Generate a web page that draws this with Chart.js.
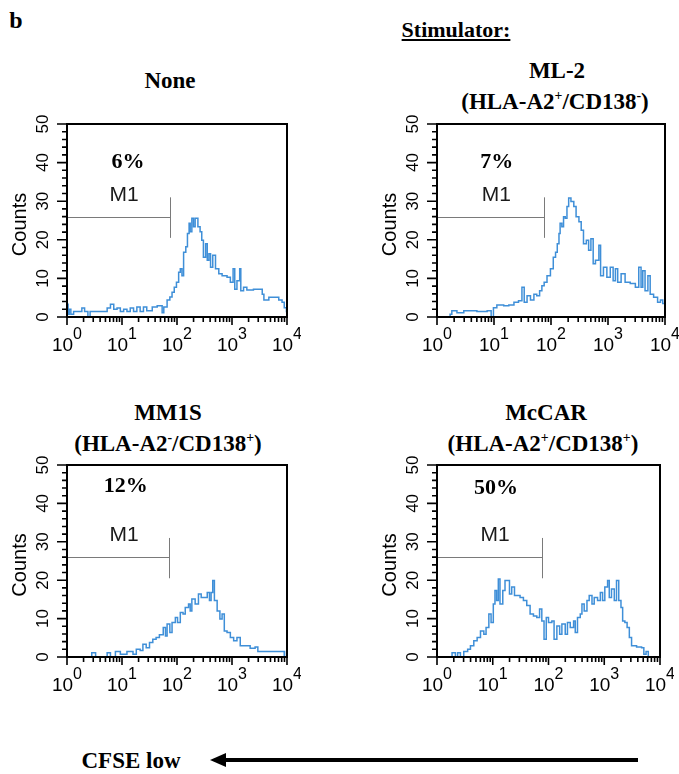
<!DOCTYPE html>
<html><head><meta charset="utf-8">
<script src="https://cdn.jsdelivr.net/npm/chart.js@4.4.0/dist/chart.umd.min.js"></script>
<style>
html,body{margin:0;padding:0;background:#fff;}
body{width:679px;height:774px;position:relative;overflow:hidden;}
.t{position:absolute;transform:translate(-50%,-50%);font-family:"Liberation Serif","Times New Roman",serif;font-weight:bold;font-size:23px;white-space:nowrap;line-height:1;color:#000;}
.t sup{font-size:0.6em;vertical-align:0.6em;line-height:0;}
canvas{position:absolute;}
</style></head><body>
<div class="t" style="left:16px;top:20px;font-size:24px;">b</div>
<div class="t" style="left:456px;top:30px;font-size:22px;text-decoration:underline;">Stimulator:</div>
<div class="t" style="left:170px;top:80px;">None</div>
<div class="t" style="left:557px;top:70px;">ML-2</div>
<div class="t" style="left:555px;top:101px;">(HLA-A2<sup>+</sup>/CD138<sup>-</sup>)</div>
<div class="t" style="left:168px;top:412px;">MM1S</div>
<div class="t" style="left:168px;top:443px;">(HLA-A2<sup>-</sup>/CD138<sup>+</sup>)</div>
<div class="t" style="left:546px;top:412px;">McCAR</div>
<div class="t" style="left:543px;top:443px;">(HLA-A2<sup>+</sup>/CD138<sup>+</sup>)</div>
<div class="t" style="left:131px;top:760px;">CFSE low</div>
<svg style="position:absolute;left:0;top:0" width="679" height="774">
  <line x1="222" y1="760" x2="638" y2="760" stroke="#000" stroke-width="4"/>
  <polygon points="210,760 226,753 226,767" fill="#000"/>
</svg>
<script>
// ---- data (x given as log10 decades of fluorescence, y = counts) ----
const none_x = [0.00,0.02,0.04,0.07,0.12,0.21,0.27,0.32,0.38,0.42,0.55,0.67,0.73,0.79,0.85,0.91,0.97,1.03,1.09,1.15,1.21,1.27,1.33,1.39,1.45,1.55,1.64,1.73,1.76,1.82,1.87,1.91,1.95,1.99,2.03,2.06,2.09,2.12,2.16,2.19,2.22,2.24,2.27,2.30,2.33,2.38,2.42,2.45,2.48,2.52,2.55,2.58,2.61,2.65,2.70,2.76,2.82,2.91,2.97,3.02,3.05,3.09,3.14,3.16,3.21,3.27,3.39,3.50,3.55,3.58,3.67,3.76,3.85,3.91,3.95,3.99,4.00];
const none_y = [3.3,0.7,2.0,0.7,1.4,1.4,2.3,1.4,0,1.4,1.4,1.4,2.3,3.3,2.0,2.3,1.4,2.0,1.4,2.3,1.4,2.6,1.4,2.6,1.6,2.6,2.9,1.1,2.6,4.4,5.2,6.4,7.7,9.0,11.6,12.5,10.7,16.8,18.2,21.6,24.3,22.1,25.6,23.4,25.6,23.4,22.1,19.9,15.5,19.0,14.7,16.4,12.9,16.0,12.5,11.2,10.7,10.3,9.0,12.5,7.2,9.4,12.5,6.8,7.7,7.0,7.2,7.2,5.9,4.4,5.1,5.1,4.4,3.8,2.4,1.4,2.6];

const ml2_x = [0.00,0.23,0.26,0.35,0.47,0.58,0.70,0.88,0.95,0.99,1.05,1.17,1.26,1.35,1.43,1.49,1.53,1.58,1.64,1.70,1.75,1.80,1.84,1.88,1.93,1.99,2.04,2.08,2.11,2.14,2.16,2.19,2.22,2.25,2.28,2.31,2.35,2.40,2.44,2.49,2.53,2.57,2.62,2.66,2.70,2.74,2.78,2.84,2.87,2.92,2.98,3.04,3.09,3.13,3.17,3.23,3.30,3.39,3.48,3.54,3.58,3.61,3.65,3.70,3.74,3.80,3.87,3.92,3.96,4.00];
const ml2_y = [0,0.7,1.6,1.1,1.6,1.6,1.4,1.6,0,2.4,3.1,2.9,3.1,3.8,4.2,7.7,3.8,5.5,4.4,5.9,5.5,6.8,8.1,9.0,10.7,12.5,15.5,16.8,19.0,21.6,24.3,23.4,26.0,25.6,28.6,30.8,29.9,28.6,26.0,24.7,22.5,19.0,19.9,17.3,20.3,13.8,14.7,18.6,10.7,12.9,10.3,12.9,9.4,12.5,9.0,11.2,9.0,8.7,7.7,12.9,7.7,12.0,6.8,10.7,5.9,5.1,3.8,4.4,3.5,3.5];

const mm1s_x = [0.00,0.39,0.45,0.52,0.67,0.73,0.79,0.88,0.97,1.09,1.20,1.26,1.33,1.38,1.44,1.50,1.56,1.62,1.68,1.75,1.79,1.82,1.87,1.91,1.97,2.01,2.06,2.11,2.15,2.21,2.24,2.27,2.33,2.39,2.44,2.48,2.55,2.59,2.62,2.65,2.68,2.73,2.78,2.82,2.86,2.91,2.97,3.03,3.09,3.15,3.24,3.33,3.42,3.47,3.64,3.82,3.95,3.99,4.00];
const mm1s_y = [0,0,1.1,0,0,1.1,0,1.4,0.7,1.4,0.7,2.0,1.7,3.3,2.4,3.8,4.6,5.1,5.8,7.7,5.5,8.6,6.4,9.0,10.3,9.0,11.6,11.2,12.9,13.8,12.0,15.1,13.8,16.4,15.5,15.5,16.8,14.7,16.8,19.9,14.7,12.0,9.9,11.2,6.8,6.4,5.1,4.2,5.1,2.9,2.9,2.3,2.6,1.4,1.4,1.4,0,1.4,1.4];

const mccar_x = [0.00,0.24,0.27,0.33,0.37,0.42,0.48,0.55,0.60,0.66,0.72,0.78,0.84,0.88,0.93,0.97,1.01,1.04,1.07,1.10,1.13,1.18,1.22,1.27,1.30,1.34,1.39,1.43,1.49,1.55,1.61,1.67,1.73,1.79,1.84,1.88,1.92,1.96,2.00,2.06,2.10,2.15,2.20,2.24,2.30,2.34,2.39,2.45,2.48,2.52,2.57,2.60,2.64,2.69,2.73,2.78,2.82,2.88,2.93,2.97,3.01,3.06,3.09,3.13,3.18,3.22,3.26,3.30,3.33,3.37,3.41,3.45,3.49,3.58,3.67,3.71,3.75,3.79,4.00];
const mccar_y = [0,0,1.1,0,1.1,0,1.4,2.0,2.9,4.2,5.1,6.8,5.9,7.7,11.2,9.0,13.8,17.3,14.7,20.3,13.8,17.3,19.9,19.9,16.4,18.2,16.0,16.0,15.5,14.7,13.4,11.2,10.7,10.3,12.5,9.4,4.6,10.3,9.0,9.4,4.6,8.1,5.9,8.6,5.9,9.0,7.7,9.4,6.4,10.3,11.2,13.8,12.0,14.7,16.0,13.8,15.5,14.7,16.8,14.7,18.2,19.9,15.5,17.7,14.7,19.9,14.7,12.9,9.4,9.0,7.7,5.1,2.9,2.6,2.4,0.7,1.4,0,0];

const percentLabels = ['6%','7%','12%','50%'];
const gateEnds = [1.87, 1.87, 1.85, 1.88];   // M1 gate upper bound (log10)
const gateLevel = 26;                          // counts level of gate bar
const yTickLabels = [0,10,20,30,40,50];
const xTickExponents = [0,1,2,3,4];

// ---- layout (plot boxes in page pixels) ----
const boxes = [
  {L:67, R:287, T:124, B:317},
  {L:437, R:665, T:124, B:317},
  {L:67, R:287, T:465, B:657},
  {L:437, R:660, T:465, B:657}
];
const pctPos = [[1.11,40.1],[1.05,40.0],[1.07,44.5],[1.06,44.0]];
const series = [[none_x,none_y],[ml2_x,ml2_y],[mm1s_x,mm1s_y],[mccar_x,mccar_y]];
const PADL=67, PADR=14, PADT=44, PADB=40;
const SANS='"Liberation Sans", Arial, sans-serif';

function facsPlugin(i){
  return {
    id:'facs'+i,
    afterDraw(chart){
      const ctx=chart.ctx, a=chart.chartArea, xs=chart.scales.x, ys=chart.scales.y;
      ctx.save();
      // gate
      const gx = xs.getPixelForValue(Math.pow(10,gateEnds[i]));
      const gy = ys.getPixelForValue(gateLevel);
      ctx.strokeStyle='#7a7a7a'; ctx.lineWidth=1;
      ctx.beginPath();
      ctx.moveTo(a.left, Math.round(gy)+0.5); ctx.lineTo(Math.round(gx)+0.5, Math.round(gy)+0.5);
      ctx.moveTo(Math.round(gx)+0.5, ys.getPixelForValue(20.5)); ctx.lineTo(Math.round(gx)+0.5, ys.getPixelForValue(31));
      ctx.stroke();
      // M1 label
      ctx.fillStyle='#1a1a1a';
      ctx.font='21px '+SANS;
      ctx.textAlign='center'; ctx.textBaseline='middle';
      ctx.fillText('M1', xs.getPixelForValue(Math.pow(10,1.04)), ys.getPixelForValue(31.6));
      // percent label
      ctx.fillStyle='#000';
      ctx.font='bold 22px "Liberation Serif", "Times New Roman", serif';
      ctx.fillText(percentLabels[i], xs.getPixelForValue(Math.pow(10,pctPos[i][0])), ys.getPixelForValue(pctPos[i][1]));
      // box
      ctx.strokeStyle='#000'; ctx.lineWidth=2;
      ctx.strokeRect(a.left, a.top, a.right-a.left, a.bottom-a.top);
      // y ticks
      ctx.lineWidth=1.6;
      ctx.beginPath();
      for(let v=0; v<=50; v+=2){
        const y=ys.getPixelForValue(v);
        const len = (v%10===0)?10:5;
        ctx.moveTo(a.left, y); ctx.lineTo(a.left-len, y);
      }
      // x ticks
      for(let n=0;n<4;n++){
        for(let k=1;k<=9;k++){
          const x=xs.getPixelForValue(k*Math.pow(10,n));
          const len=(k===1)?8:5;
          ctx.moveTo(x, a.bottom); ctx.lineTo(x, a.bottom+len);
        }
      }
      const x4=xs.getPixelForValue(10000);
      ctx.moveTo(x4, a.bottom); ctx.lineTo(x4, a.bottom+8);
      ctx.stroke();
      // y labels (rotated)
      ctx.fillStyle='#000';
      ctx.font='17px '+SANS;
      ctx.textAlign='center'; ctx.textBaseline='middle';
      yTickLabels.forEach(v=>{
        const y=ys.getPixelForValue(v);
        ctx.save(); ctx.translate(a.left-24, y); ctx.rotate(-Math.PI/2);
        ctx.fillText(String(v),0,0); ctx.restore();
      });
      // axis title
      ctx.save();
      ctx.font='20px '+SANS;
      ctx.translate(a.left-47, (a.top+a.bottom)/2+4); ctx.rotate(-Math.PI/2);
      ctx.fillText('Counts',0,0); ctx.restore();
      // x labels 10^n
      ctx.textAlign='left'; ctx.textBaseline='alphabetic';
      xTickExponents.forEach(n=>{
        const x=xs.getPixelForValue(Math.pow(10,n));
        ctx.font='19px '+SANS;
        const w1=ctx.measureText('10').width;
        ctx.font='16px '+SANS;
        const w2=ctx.measureText(String(n)).width;
        const start=x-(w1+w2)/2;
        ctx.font='19px '+SANS;
        ctx.fillText('10', start, a.bottom+34);
        ctx.font='16px '+SANS;
        ctx.fillText(String(n), start+w1, a.bottom+22);
      });
      ctx.restore();
    }
  };
}

boxes.forEach((b,i)=>{
  const c=document.createElement('canvas');
  const w=(b.R-b.L)+PADL+PADR, h=(b.B-b.T)+PADT+PADB;
  c.width=w; c.height=h;
  c.style.left=(b.L-PADL)+'px'; c.style.top=(b.T-PADT)+'px';
  c.style.width=w+'px'; c.style.height=h+'px';
  document.body.appendChild(c);
  const [sx,sy]=series[i];
  new Chart(c.getContext('2d'),{
    type:'line',
    data:{datasets:[{
      data: sx.map((d,j)=>({x:Math.pow(10,d), y:sy[j]})),
      borderColor:'#3f8fd8', borderWidth:1.5, pointRadius:0, stepped:true, fill:false
    }]},
    options:{
      responsive:false, animation:false, events:[], devicePixelRatio:1,
      layout:{padding:{left:PADL,right:PADR,top:PADT,bottom:PADB}},
      plugins:{legend:{display:false}, tooltip:{enabled:false}},
      scales:{
        x:{type:'logarithmic', min:1, max:10000, display:false},
        y:{type:'linear', min:0, max:50, display:false}
      }
    },
    plugins:[facsPlugin(i)]
  });
});
</script>
</body></html>
